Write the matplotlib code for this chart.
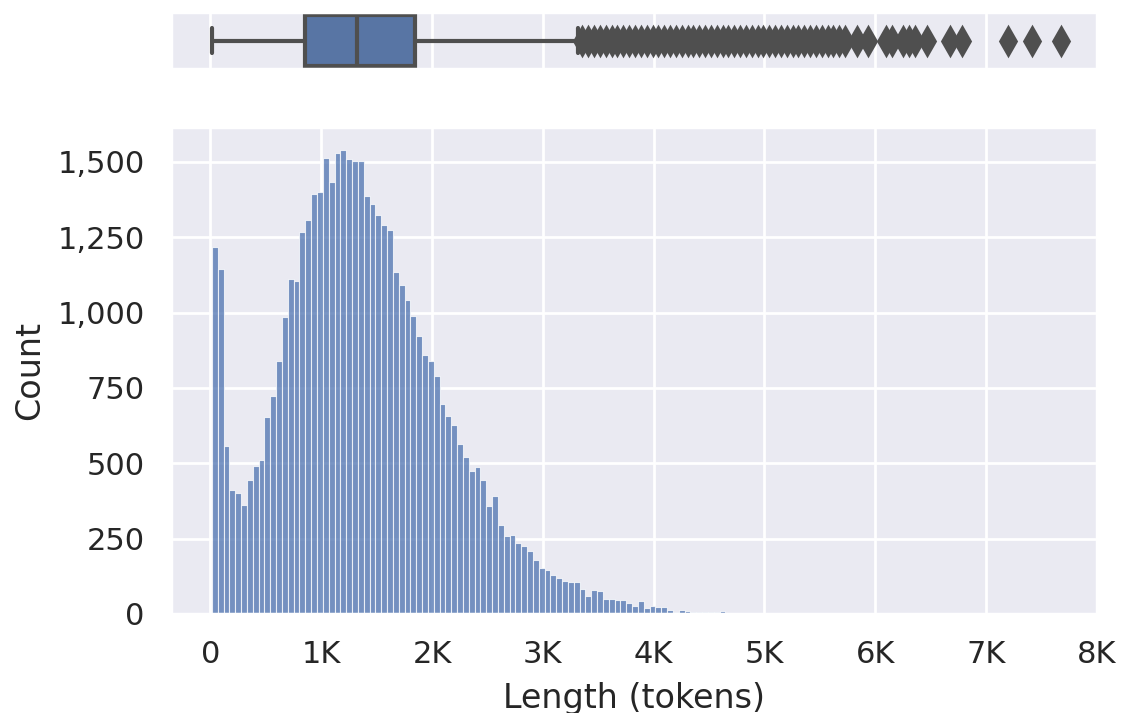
import numpy as np
import matplotlib.pyplot as plt
import seaborn as sns
from matplotlib.ticker import FuncFormatter

# histogram: bins start at 15 tokens, ~52.65 tokens wide
bin_start = 15
bin_width = 52.65
counts = [
    1217, 1146, 558, 410, 402, 360, 446, 491, 511, 655,
    724, 838, 985, 1111, 1106, 1269, 1308, 1392, 1400, 1512,
    1432, 1530, 1539, 1509, 1503, 1503, 1387, 1361, 1323, 1291,
    1274, 1134, 1090, 1043, 988, 923, 859, 839, 789, 696,
    658, 627, 563, 520, 476, 487, 443, 357, 392, 296,
    260, 262, 236, 225, 208, 180, 153, 145, 128, 120,
    108, 105, 106, 84, 59, 79, 76, 50, 50, 47,
    47, 37, 28, 42, 20, 28, 23, 23, 12, 7,
    13, 10, 8, 6, 6, 6, 8, 9, 2, 4,
    3, 2, 3, 2, 1, 2, 2, 1, 2, 1,
    1, 2, 1, 1, 1, 1, 1, 1, 1, 0,
    1, 0, 1, 0, 0, 1, 1, 0, 1, 1,
    1, 0, 1, 0, 0, 0, 1, 0, 1, 0,
    0, 0, 0, 0, 0, 0, 1, 0, 0, 0,
    1, 0, 0, 0, 0, 1,
]

# box plot summary
q1 = 855
median = 1320
q3 = 1845
whisker_low = 15
whisker_high = 3320

yticks = [0, 250, 500, 750, 1000, 1250, 1500]
xticks = [0, 1000, 2000, 3000, 4000, 5000, 6000, 7000, 8000]

sns.set_theme(style="darkgrid")
plt.rcParams['font.family'] = ['DejaVu Sans']

counts = np.array(counts)
edges = bin_start + bin_width * np.arange(len(counts) + 1)
centers = (edges[:-1] + edges[1:]) / 2
fliers = centers[(counts > 0) & (centers > whisker_high)]

fig = plt.figure(figsize=(5.62, 3.565), dpi=200)
ax_box = fig.add_axes([0.1521, 0.9032, 0.8238, 0.0799])
ax = fig.add_axes([0.1521, 0.1389, 0.8238, 0.6830], sharex=ax_box)

# histogram
ax.bar(edges[:-1], counts, width=bin_width, align='edge',
       color='#4c72b0', alpha=0.75, edgecolor='white', linewidth=0.4)
ax.set_xlim(-355, 8000)
ax.set_ylim(0, 1616)
ax.set_yticks(yticks)
ax.set_xticks(xticks)
ax.yaxis.set_major_formatter(FuncFormatter(lambda v, p: f'{int(v):,}'))
ax.xaxis.set_major_formatter(FuncFormatter(lambda v, p: '0' if v == 0 else f'{int(v / 1000)}K'))
ax.tick_params(labelsize=11)
ax.set_ylabel('Count', fontsize=12)
ax.set_xlabel('Length (tokens)', fontsize=12, labelpad=4.5)

# box plot on top
stats = [{'med': median, 'q1': q1, 'q3': q3, 'whislo': whisker_low,
          'whishi': whisker_high, 'fliers': fliers}]
gray = '#4f4f4f'
ax_box.bxp(stats, positions=[0], widths=0.8, vert=False, patch_artist=True,
           boxprops=dict(facecolor='#5875a4', edgecolor=gray, linewidth=1.5),
           medianprops=dict(color=gray, linewidth=1.5),
           whiskerprops=dict(color=gray, linewidth=1.5),
           capprops=dict(color=gray, linewidth=1.5),
           flierprops=dict(marker='d', markerfacecolor=gray, markeredgecolor=gray,
                           markersize=7, linestyle='none'))
ax_box.set_ylim(0.45, -0.45)
ax_box.set_yticks([])
ax_box.tick_params(labelbottom=False)
ax_box.set_xlabel('')

fig.savefig('out.png', dpi=200)
